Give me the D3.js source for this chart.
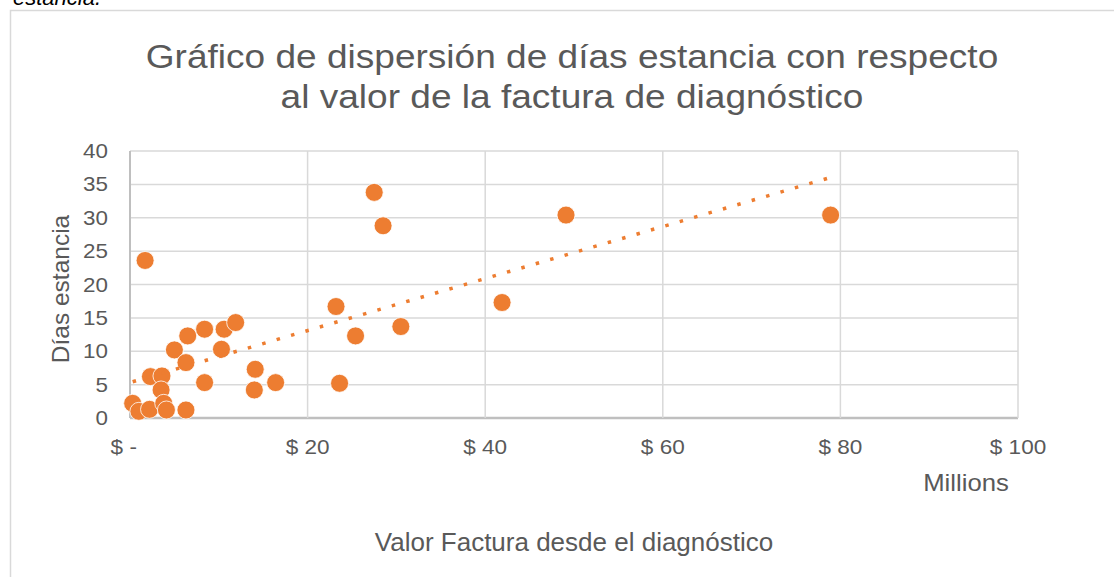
<!DOCTYPE html>
<html lang="es">
<head>
<meta charset="UTF-8">
<title>Días estancia vs valor factura</title>
<script src="https://d3js.org/d3.v7.min.js"></script>
<style>
  body { margin: 0; background: #fff; }
  svg text { font-family: "Liberation Sans", Arial, sans-serif; white-space: pre; }
</style>
</head>
<body>
<div id="chart"></div>
<script>
// valor factura (millones) y días estancia
const valorFactura = [0.3, 1.0, 2.2, 1.7, 2.3, 3.6, 3.5, 3.8, 4.1, 5.0,
                      6.3, 6.5, 6.3, 8.4, 8.4, 10.3, 10.6, 11.9, 14.1, 14.0,
                      16.4, 23.2, 25.4, 23.6, 27.5, 28.5, 30.5, 41.9, 49.1, 78.9];
const diasEstancia = [2.2, 1.0, 1.3, 23.6, 6.2, 6.3, 4.2, 2.2, 1.2, 10.2,
                      8.3, 12.3, 1.2, 13.3, 5.3, 10.3, 13.3, 14.3, 7.3, 4.2,
                      5.3, 16.7, 12.3, 5.2, 33.8, 28.8, 13.7, 17.3, 30.4, 30.4];
const xTicks = [0, 20, 40, 60, 80, 100];
const yTicks = [0, 5, 10, 15, 20, 25, 30, 35, 40];
const titleLines = ["Gráfico de dispersión de días estancia con respecto",
                    "al valor de la factura de diagnóstico"];

const W = 1114, H = 577;
const plot = { left: 130, right: 1018, top: 151, bottom: 418 };
const orange = "#ED7D31", textGray = "#595959", gridGray = "#d9d9d9";

const svg = d3.select("#chart").append("svg")
    .attr("width", W).attr("height", H);

// texto del documento, cortado arriba
svg.append("text").attr("x", 13).attr("y", 5)
    .attr("font-size", 22).attr("font-style", "italic").attr("fill", "#000")
    .text("estancia.");

// marco del gráfico
svg.append("rect").attr("x", 10.5).attr("y", 10.5)
    .attr("width", 1200).attr("height", 700)
    .attr("fill", "none").attr("stroke", gridGray).attr("stroke-width", 1.5);

const x = d3.scaleLinear().domain([0, 100]).range([plot.left, plot.right]);
const y = d3.scaleLinear().domain([0, 40]).range([plot.bottom, plot.top]);

// texto con leve estiramiento horizontal, como en la imagen original
function label(g, px, py, txt, size, sx, anchor) {
  return g.append("text")
      .attr("transform", `translate(${px},${py}) scale(${sx},1)`)
      .attr("dy", "0.35em").attr("text-anchor", anchor || "middle")
      .attr("font-size", size).attr("fill", textGray).text(txt);
}

// título
titleLines.forEach((t, i) => {
  svg.append("text")
      .attr("transform", `translate(572,${68 + i * 40}) scale(1.09,1)`)
      .attr("text-anchor", "middle").attr("font-size", 34).attr("fill", textGray)
      .text(t);
});

// rejilla
svg.append("g").selectAll("line").data(yTicks).join("line")
    .attr("x1", plot.left).attr("x2", plot.right)
    .attr("y1", d => y(d)).attr("y2", d => y(d))
    .attr("stroke", d => d === 0 ? "#bfbfbf" : gridGray)
    .attr("stroke-width", d => d === 0 ? 2.5 : 1.5);
svg.append("g").selectAll("line").data(xTicks).join("line")
    .attr("x1", d => x(d)).attr("x2", d => x(d))
    .attr("y1", plot.top).attr("y2", plot.bottom)
    .attr("stroke", d => d === 0 ? "#bfbfbf" : gridGray)
    .attr("stroke-width", d => d === 0 ? 2 : 1.5);

// etiquetas de ejes (formato contable: "$ -  " para el cero)
const gy = svg.append("g");
yTicks.forEach(d => label(gy, 108, y(d), d, 20, 1.12, "end"));
const gx = svg.append("g");
xTicks.forEach(d => label(gx, x(d), 447, d === 0 ? "$ -\u00a0\u00a0" : "$ " + d, 20.5, 1.1));

label(svg, 966, 483, "Millions", 24, 1.07);
label(svg, 574, 542, "Valor Factura desde el diagnóstico", 26, 1.0);
svg.append("text")
    .attr("transform", "translate(60,289) rotate(-90)").attr("dy", "0.35em")
    .attr("text-anchor", "middle").attr("font-size", 24.5).attr("fill", textGray)
    .text("Días estancia");

// puntos
const data = valorFactura.map((v, i) => ({ x: v, y: diasEstancia[i] }));
svg.append("g").selectAll("circle").data(data).join("circle")
    .attr("cx", d => x(d.x)).attr("cy", d => y(d.y)).attr("r", 9)
    .attr("fill", orange).attr("stroke", "#fff").attr("stroke-width", 0.8);

// línea de tendencia lineal (mínimos cuadrados)
const mx = d3.mean(valorFactura), my = d3.mean(diasEstancia);
const slope = d3.sum(data, d => (d.x - mx) * (d.y - my)) / d3.sum(data, d => (d.x - mx) ** 2);
const icpt = my - slope * mx;
const xr = d3.extent(valorFactura);
svg.append("line")
    .attr("x1", x(xr[0])).attr("y1", y(icpt + slope * xr[0]))
    .attr("x2", x(xr[1])).attr("y2", y(icpt + slope * xr[1]))
    .attr("stroke", orange).attr("stroke-width", 3.5)
    .attr("stroke-dasharray", "3.5 11.5");
</script>
</body>
</html>
